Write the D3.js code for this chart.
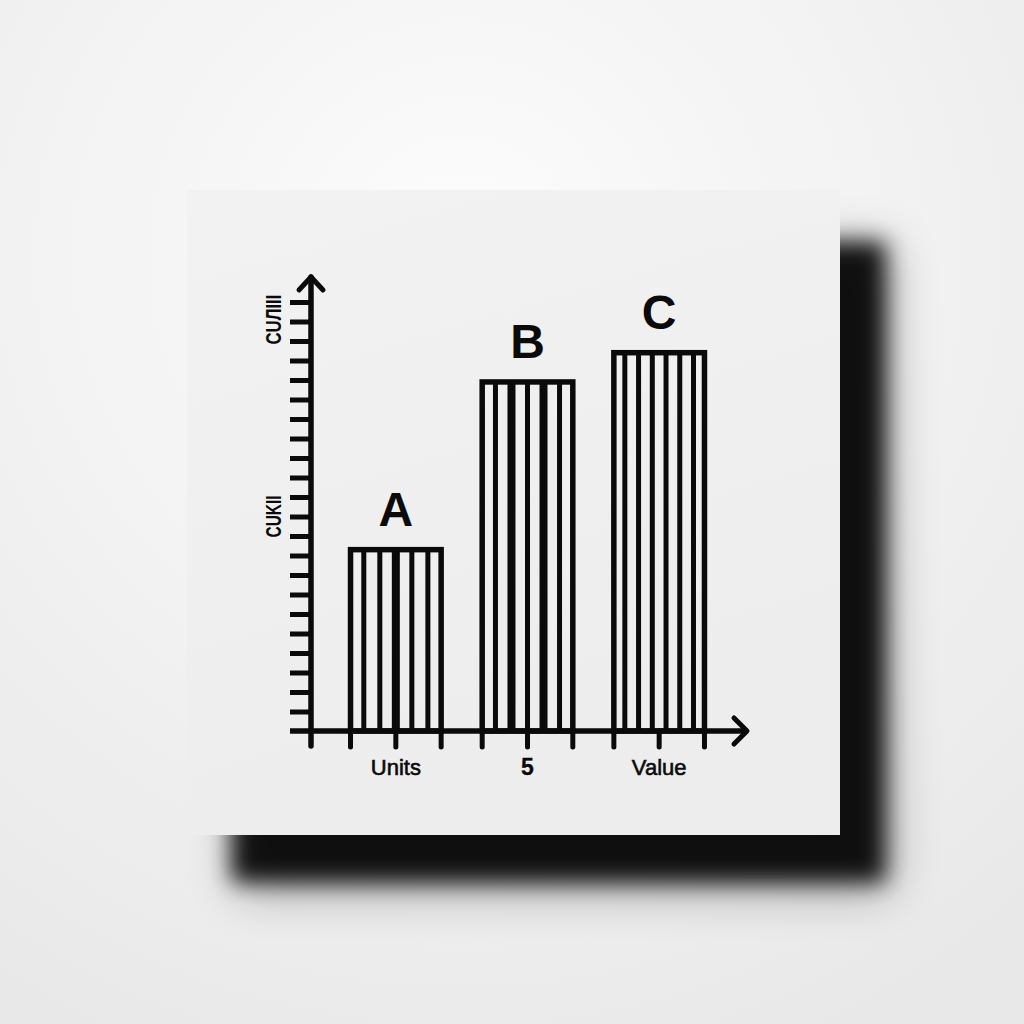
<!DOCTYPE html>
<html><head><meta charset="utf-8">
<script src="https://cdn.jsdelivr.net/npm/d3@7"></script>
<style>html,body{margin:0;padding:0;background:#f2f2f2;} svg{display:block}</style>
</head><body><svg id="c" width="1024" height="1024"></svg>
<script>
// ---- data ----
const categories = ["A", "B", "C"];
const values = [9.3, 17.9, 19.4];
const axisLabels = ["Units", "5", "Value"];
const yTickValues = d3.range(1, 23);
const yNoteLabels = ["CUЛIII", "CUKII"];
const yNoteValues = [21.1, 11.0];

// ---- style constants ----
const stripeCounts = [5, 5, 6];
const thickStripes = [[2], [1, 3], []];
const ink = "#0a0a0a";
const font = "Liberation Sans, Arial, sans-serif";

const svg = d3.select("#c");
const defs = svg.append("defs");

const bg = defs.append("radialGradient").attr("id", "bg").attr("cx", "45%").attr("cy", "25%").attr("r", "85%");
bg.append("stop").attr("offset", "0%").attr("stop-color", "#fcfcfc");
bg.append("stop").attr("offset", "100%").attr("stop-color", "#e8e8e8");

const cardG = defs.append("linearGradient").attr("id", "card").attr("x1", 0).attr("y1", 0).attr("x2", 0.3).attr("y2", 1);
cardG.append("stop").attr("offset", "0%").attr("stop-color", "#f2f2f2");
cardG.append("stop").attr("offset", "100%").attr("stop-color", "#ededed");

defs.append("filter").attr("id", "blurBig").attr("x", "-30%").attr("y", "-30%").attr("width", "160%").attr("height", "160%")
  .append("feGaussianBlur").attr("stdDeviation", 24);
defs.append("filter").attr("id", "blurSmall").attr("x", "-30%").attr("y", "-30%").attr("width", "160%").attr("height", "160%")
  .append("feGaussianBlur").attr("stdDeviation", 11);

svg.append("rect").attr("width", 1024).attr("height", 1024).attr("fill", "url(#bg)");

// card geometry
const card = { x: 187, y: 190, w: 653, h: 645 };
svg.append("rect").attr("x", card.x + 50).attr("y", card.y + 55).attr("width", card.w).attr("height", card.h)
  .attr("fill", "#000").attr("opacity", 0.35).attr("filter", "url(#blurBig)");
svg.append("rect").attr("x", card.x + 45).attr("y", card.y + 52).attr("width", card.w).attr("height", card.h - 5)
  .attr("fill", "#000").attr("opacity", 0.9).attr("filter", "url(#blurSmall)");
svg.append("rect").attr("x", card.x).attr("y", card.y).attr("width", card.w).attr("height", card.h)
  .attr("fill", "url(#card)");

// ---- scales ----
const y = d3.scaleLinear().domain([0, 22]).range([731, 302]);
const x = d3.scaleBand().domain(categories).range([330, 725]).paddingInner(0.27).paddingOuter(0.135);
const axisX = 311;
const baseY = y(0);
const bw = x.bandwidth();

const chart = svg.append("g");

// bars
const sw = 5.5;
categories.forEach((c, i) => {
  const x0 = x(c), top = y(values[i]);
  const g = chart.append("g");
  const n = stripeCounts[i];
  for (let k = 1; k <= n; k++) {
    const sx = x0 + bw * k / (n + 1);
    g.append("line").attr("x1", sx).attr("x2", sx).attr("y1", top).attr("y2", baseY)
      .attr("stroke", ink).attr("stroke-width", thickStripes[i].includes(k - 1) ? 8 : 5);
  }
  g.append("rect").attr("x", x0 + sw / 2).attr("y", top).attr("width", bw - sw).attr("height", baseY - top)
    .attr("fill", "none").attr("stroke", ink).attr("stroke-width", sw).attr("stroke-linejoin", "miter");
  g.append("text").attr("x", x0 + bw / 2).attr("y", top - 24).attr("text-anchor", "middle")
    .attr("font-family", font).attr("font-weight", "bold").attr("font-size", 48)
    .attr("fill", ink).text(c);
  [x0 + sw / 2, x0 + bw - sw / 2].forEach(ex => {
    chart.append("line").attr("x1", ex).attr("x2", ex).attr("y1", baseY).attr("y2", baseY + 16)
      .attr("stroke", ink).attr("stroke-width", 5).attr("stroke-linecap", "round");
  });
});

// y axis ticks
const yAxis = d3.axisLeft(y).tickValues(yTickValues).tickSize(21).tickFormat("");
const yg = chart.append("g").attr("transform", `translate(${axisX},0)`).call(yAxis);
yg.select(".domain").remove();
yg.selectAll(".tick line").attr("stroke", ink).attr("stroke-width", 5);

// x axis
const xAxis = d3.axisBottom(x).tickSize(16).tickFormat((d, i) => axisLabels[i]);
const xg = chart.append("g").attr("transform", `translate(0,${baseY})`).call(xAxis);
xg.select(".domain").remove();
xg.selectAll(".tick line").attr("stroke", ink).attr("stroke-width", 5).attr("stroke-linecap", "round");
xg.selectAll(".tick text").attr("y", 44).attr("dy", 0).attr("fill", ink)
  .attr("font-family", font)
  .attr("font-weight", (d, i) => i === 1 ? "bold" : "normal")
  .attr("font-size", (d, i) => i === 1 ? 23 : 22)
  .attr("stroke", ink).attr("stroke-width", (d, i) => i === 1 ? 0.3 : 0.6);

// axis lines with arrows
chart.append("line").attr("x1", axisX).attr("x2", axisX).attr("y1", 277).attr("y2", baseY + 15)
  .attr("stroke", ink).attr("stroke-width", 5.5).attr("stroke-linecap", "round");
chart.append("line").attr("x1", 290).attr("x2", 746).attr("y1", baseY).attr("y2", baseY)
  .attr("stroke", ink).attr("stroke-width", 5.5);
chart.append("path").attr("d", `M${axisX - 12},${290} L${axisX},${277} L${axisX + 12},${290}`)
  .attr("fill", "none").attr("stroke", ink).attr("stroke-width", 5).attr("stroke-linecap", "round").attr("stroke-linejoin", "round");
chart.append("path").attr("d", `M${734},${baseY - 13} L${747},${baseY} L${734},${baseY + 13}`)
  .attr("fill", "none").attr("stroke", ink).attr("stroke-width", 5).attr("stroke-linecap", "round").attr("stroke-linejoin", "round");

// rotated y notes
yNoteLabels.forEach((t, i) => {
  chart.append("text").attr("transform", `translate(${281},${y(yNoteValues[i])}) rotate(-90)`)
    .attr("text-anchor", "middle").attr("font-family", font)
    .attr("font-weight", "bold").attr("font-size", 22).attr("fill", ink)
    .attr("textLength", i === 0 ? 50 : 42).attr("lengthAdjust", "spacingAndGlyphs").text(t);
});
</script></body></html>
